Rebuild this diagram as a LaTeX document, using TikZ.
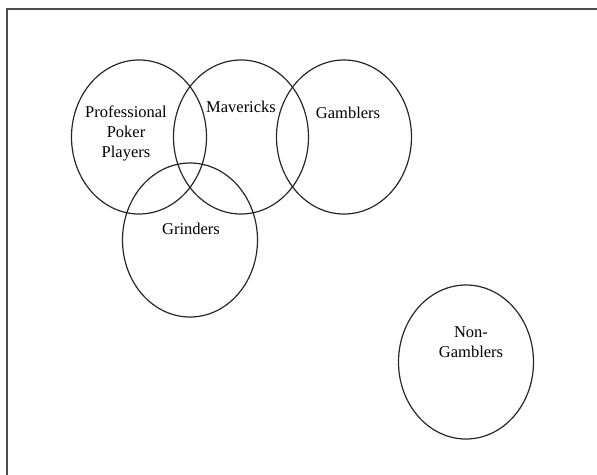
\documentclass[tikz,border=0pt]{standalone}
\usepackage{fontspec}
\setmainfont{Liberation Serif}
\usetikzlibrary{shapes.geometric}
\begin{document}
\begin{tikzpicture}[x=1pt,y=-1pt,
  set/.style={draw=black!85, line width=1.2pt, ellipse, minimum width=135pt, minimum height=154pt, inner sep=0pt},
  lbl/.style={font=\fontsize{16.5}{20}\selectfont, align=center, inner sep=0pt}]
\useasboundingbox (0,0) rectangle (597,474);
\draw[black!70, line width=1.6pt] (7,9) rectangle (605,482);
\node[set] (pro) at (139,137) {};
\node[set] (mav) at (241,137) {};
\node[set] (gam) at (344,137) {};
\node[set] (gri) at (190,240) {};
\node[set] (non) at (466,362) {};
\node[lbl] (tpro) at (126,133) {Professional\\Poker\\Players};
\node[lbl] (tmav) at (241,107) {Mavericks};
\node[lbl] (tgam) at (348,113) {Gamblers};
\node[lbl] (tgri) at (191,229) {Grinders};
\node[lbl] (tnon) at (471,342) {Non-\\Gamblers};
\end{tikzpicture}
\end{document}
